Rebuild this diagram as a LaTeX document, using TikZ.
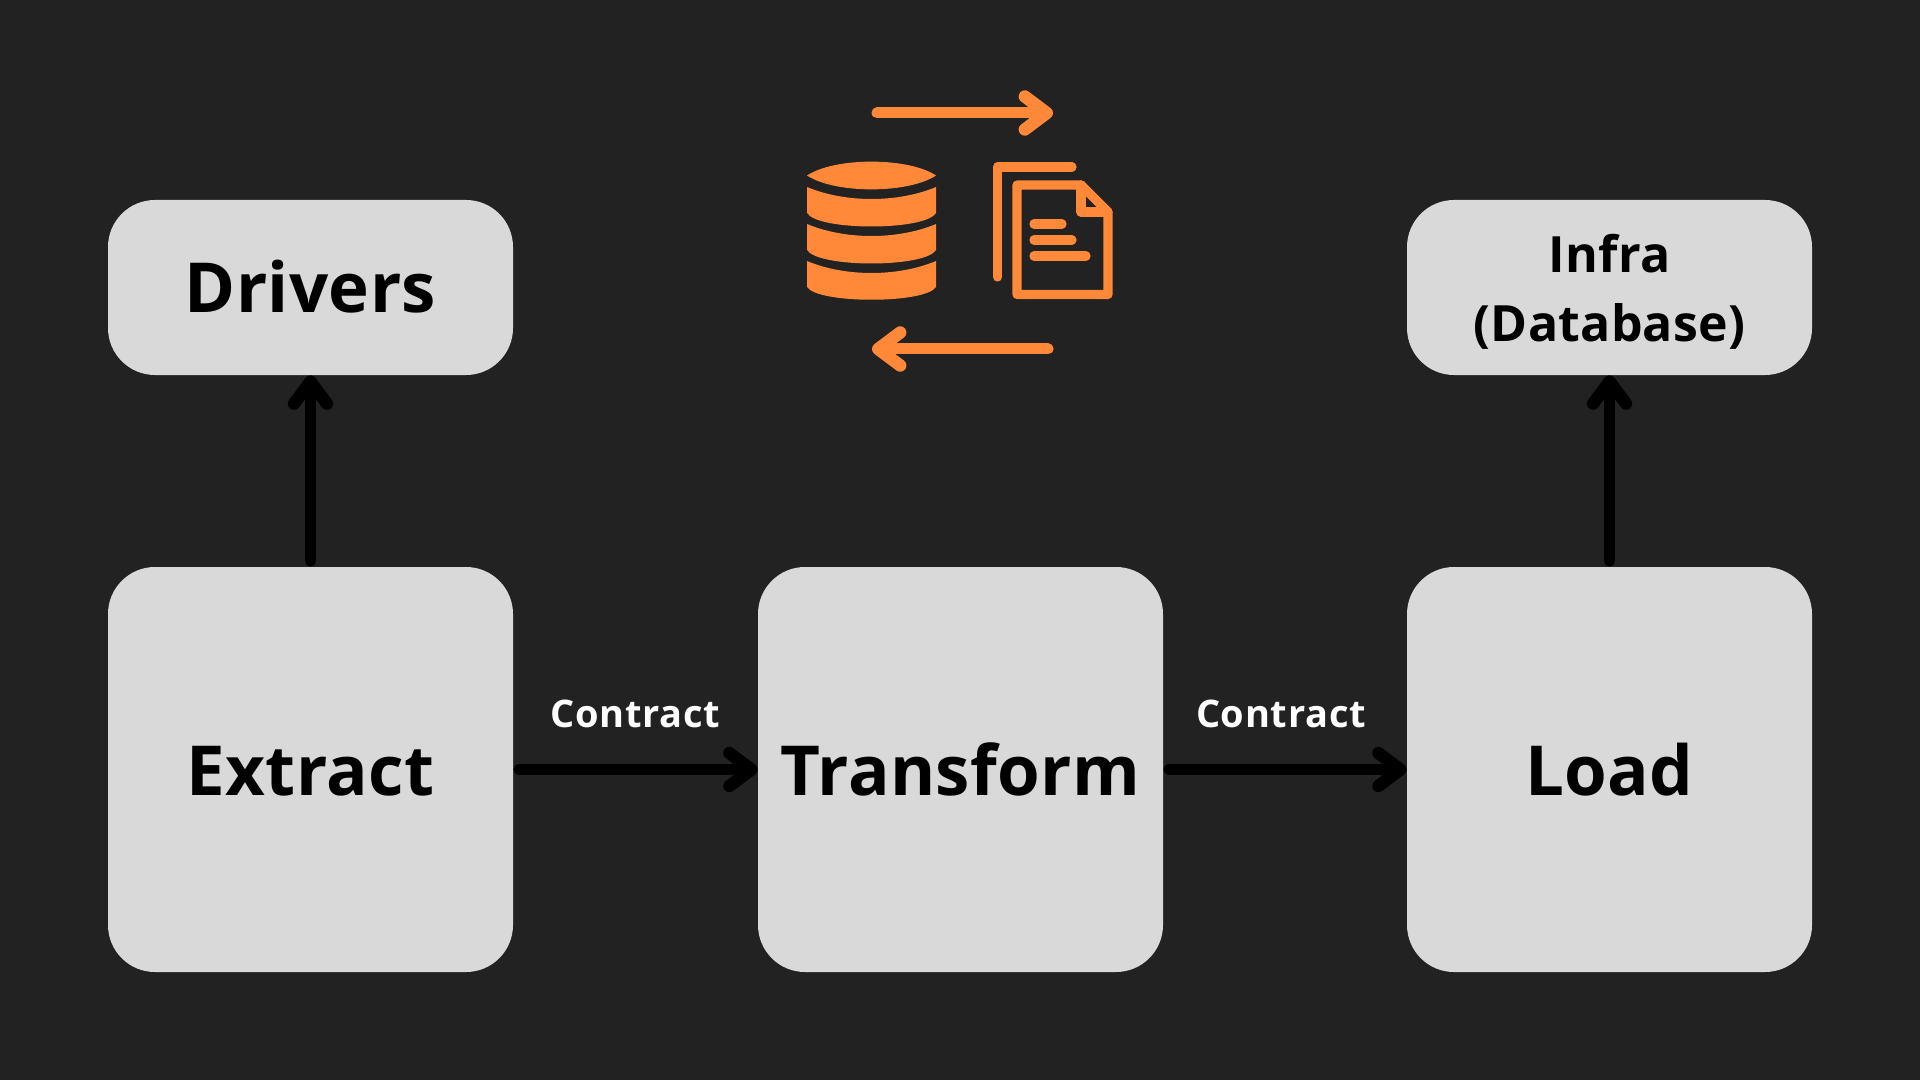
\documentclass[tikz,border=0pt]{standalone}
\usepackage{fontspec}
\setmainfont{Open Sans}[BoldFont={Open Sans Bold},LetterSpace=0.5]
\newfontfamily\widefont{Open Sans Bold}[LetterSpace=2]
\usetikzlibrary{arrows.meta}
\definecolor{bgc}{HTML}{222222}
\definecolor{boxc}{HTML}{D9D9D9}
\definecolor{orangec}{HTML}{FF8839}
\tikzset{
  x=0.5pt,y=-0.5pt,
  bigbox/.style={fill=boxc,rounded corners=23.5pt,minimum width=202.5pt,minimum height=202.5pt,inner sep=0pt,text=black,text height=25.5pt,text depth=0pt,font=\fontsize{34.5}{34.5}\selectfont\bfseries},
  smallbox/.style={bigbox,minimum height=87.5pt},
  flow/.style={line width=5.5pt,draw=black,line cap=round,shorten <=2.75pt,-{Straight Barb[round,length=11pt,width=16.5pt,line width=6.2pt]}},
  flowlabel/.style={text=white,inner sep=0pt,font=\fontsize{19}{19}\widefont},
  iconarrow/.style={line width=5.5pt,draw=orangec,line cap=round,-{Straight Barb[round,length=11pt,width=16.5pt,line width=6.2pt]}},
  iconline/.style={line width=4.6pt,draw=orangec,line cap=round,line join=round},
  band/.style={fill=orangec,draw=none}
}
\begin{document}
\begin{tikzpicture}
\useasboundingbox (0,0) rectangle (1920,1080);
\fill[bgc] (0,0) rectangle (1920,1080);
\node[smallbox] (drv) at (310.5,287.5) {Drivers};
\node[smallbox] (inf) at (1609.5,287.5) {};
\node[align=center,inner sep=0pt,text=black,font=\fontsize{25}{34.5}\selectfont\bfseries] (inft) at (1609.5,291.5) {Infra\\(Database)};
\node[bigbox] (ext) at (310.5,769.5) {Extract};
\node[bigbox] (tra) at (960.5,769.5) {Transform};
\node[bigbox] (loa) at (1609.5,769.5) {Load};
\draw[flow] (ext.north) -- (drv.south);
\draw[flow] (loa.north) -- (inf.south);
\draw[flow] (ext.east) -- (tra.west);
\draw[flow] (tra.east) -- (loa.west);
\node[flowlabel] (c1) at (635.5,714) {Contract};
\node[flowlabel] (c2) at (1281,714) {Contract};
% icon arrows
\coordinate (a1s) at (877,113); \coordinate (a1e) at (1053,113);
\coordinate (a2s) at (1048,349); \coordinate (a2e) at (872,349);
\draw[iconarrow] (a1s) -- (a1e);
\draw[iconarrow] (a2s) -- (a2e);
% database
\fill[band] (807,175.5) .. controls (835,157) and (908,157) .. (936,175.5) .. controls (908,194) and (835,194) .. (807,175.5) -- cycle;
\fill[band] (807,187) .. controls (845,203) and (898,203) .. (936,187) -- (936,213) .. controls (925,231) and (818,231) .. (807,213) -- cycle;
\fill[band] (807,224) .. controls (845,240) and (898,240) .. (936,224) -- (936,250) .. controls (925,268) and (818,268) .. (807,250) -- cycle;
\fill[band] (807,261) .. controls (845,277) and (898,277) .. (936,261) -- (936,287) .. controls (925,304) and (818,304) .. (807,287) -- cycle;
% documents
\draw[iconline] (997.5,277) -- (997.5,167) -- (1072,167);
\draw[iconline] (1017,185) -- (1081,185) -- (1108,212) -- (1108,294.5) -- (1017,294.5) -- cycle;
\draw[iconline] (1081,185) -- (1081,212) -- (1108,212);
\draw[iconline] (1034,224) -- (1062,224);
\draw[iconline] (1034,240) -- (1072,240);
\draw[iconline] (1034,256) -- (1086,256);
\end{tikzpicture}
\end{document}
